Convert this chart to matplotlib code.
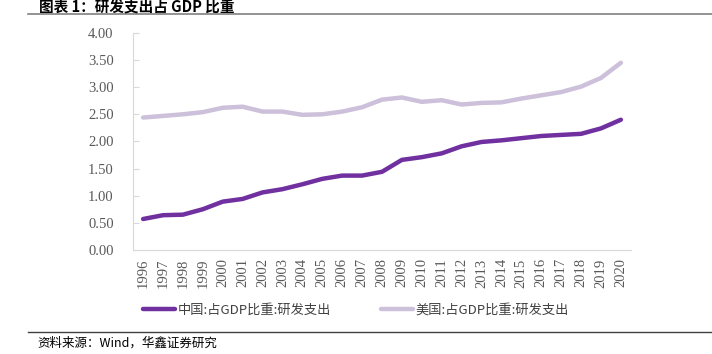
import matplotlib.pyplot as plt

plt.rcParams['font.family'] = ['Noto Sans CJK SC', 'DejaVu Sans']

years = [str(y) for y in range(1996, 2021)]
china = [0.57, 0.64, 0.65, 0.75, 0.89, 0.94, 1.06, 1.12, 1.21, 1.31, 1.37, 1.37, 1.44,
         1.66, 1.71, 1.78, 1.91, 1.99, 2.02, 2.06, 2.10, 2.12, 2.14, 2.24, 2.40]
usa = [2.44, 2.47, 2.50, 2.54, 2.62, 2.64, 2.55, 2.55, 2.49, 2.50, 2.55, 2.63, 2.77,
       2.81, 2.73, 2.76, 2.68, 2.71, 2.72, 2.79, 2.85, 2.91, 3.01, 3.17, 3.45]
yticks = [0, 0.5, 1, 1.5, 2, 2.5, 3, 3.5, 4]

fig = plt.figure(figsize=(7.12, 3.54), dpi=100)
ax = fig.add_axes([0.187, 0.294, 0.699, 0.613])

x = range(len(years))
ax.plot(x, china, color='#7030A0', lw=3.2, solid_capstyle='round', solid_joinstyle='round',
        label='中国:占GDP比重:研发支出')
ax.plot(x, usa, color='#CCC0DA', lw=3.2, solid_capstyle='round', solid_joinstyle='round',
        label='美国:占GDP比重:研发支出')

ax.set_xlim(-0.5, len(years) - 0.5)
ax.set_ylim(0, 4)
ax.set_yticks(yticks)
ax.set_yticklabels([f'{v:.2f}' for v in yticks], family='Liberation Serif', fontsize=10.5, color='#595959')
ax.set_xticks(list(x))
ax.set_xticklabels(years, rotation=90, family='Liberation Serif', fontsize=10.5, color='#595959')

for s in ['top', 'right']:
    ax.spines[s].set_visible(False)
ax.spines['left'].set_color('#D9D9D9')
ax.spines['bottom'].set_color('#D9D9D9')
ax.tick_params(axis='y', direction='in', length=4, color='#D9D9D9', pad=14)
ax.tick_params(axis='x', length=0, pad=6)

fig.legend(loc='center', bbox_to_anchor=(0.5, 0.124), ncol=2, frameon=False,
           fontsize=9.5, handlelength=2.4, columnspacing=3.8, handletextpad=0.2,
           labelcolor='#404040')

fig.text(0.055, 1.0, '图表 1：研发支出占 GDP 比重', fontsize=10.5, fontweight='bold', va='top')
fig.add_artist(plt.Line2D([0.039, 1.0], [0.960, 0.960], color='#808080', lw=1.2))
fig.add_artist(plt.Line2D([0.039, 1.0], [0.062, 0.062], color='#404040', lw=1.0))
fig.text(0.052, 0.032, '资料来源：Wind，华鑫证券研究', fontsize=9, va='center')

fig.savefig('out.png', dpi=100)
